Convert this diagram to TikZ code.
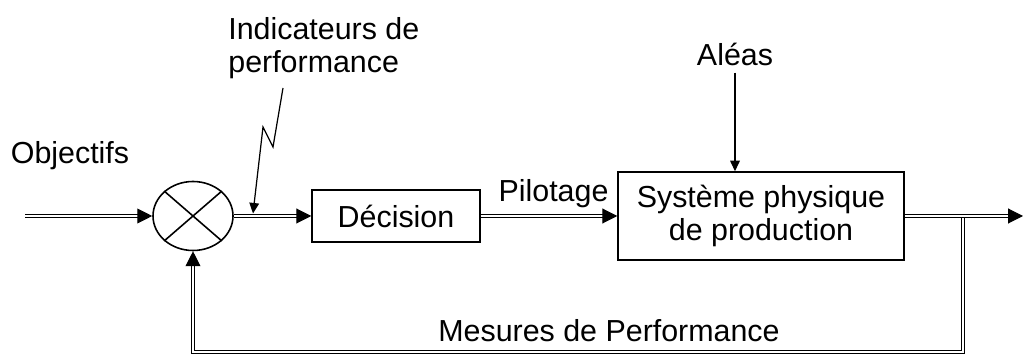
\documentclass[tikz,border=0pt]{standalone}
\usepackage{fontspec}
\setmainfont{Liberation Sans}
\usetikzlibrary{arrows.meta,shapes.geometric}
\begin{document}
\begin{tikzpicture}[
    font=\fontsize{17.3}{19.3}\selectfont,
    bloc/.style={draw,line width=0.85pt,align=center,inner sep=0pt},
    flux/.style={double,line width=0.6pt,double distance=1.3pt,-{Triangle[length=8.5pt,width=8.5pt]}},
    fleche/.style={line width=0.7pt,-{Triangle[length=6pt,width=5.5pt]}}]
  \useasboundingbox (0,0) rectangle (20.46,-7.08);
  % comparateur et blocs
  \node[draw,ellipse,line width=0.9pt,minimum width=1.6cm,minimum height=1.38cm,inner sep=0pt] (comp) at (3.86,-4.32) {};
  \draw[line width=0.9pt] (comp.north east) -- (comp.south west) (comp.north west) -- (comp.south east);
  \node[bloc,minimum width=3.36cm,minimum height=1.04cm] (dec) at (7.92,-4.32) {Décision};
  \node[bloc,minimum width=5.72cm,minimum height=1.76cm] (sys) at (15.22,-4.32) {Système physique\\de production};
  % textes
  \node[anchor=base] (obj) at (1.40,-3.28) {Objectifs};
  \node[anchor=base west,align=left,inner sep=0pt] (indic) at (4.56,-1.46) {Indicateurs de\\performance};
  \node[anchor=base] (alea) at (14.70,-1.32) {Aléas};
  \node[anchor=base] (pilot) at (11.07,-4.04) {Pilotage};
  \node[anchor=base] (mes) at (12.18,-6.84) {Mesures de Performance};
  % points libres
  \coordinate (entree) at (0.5,-4.32);
  \coordinate (sortie) at (20.46,-4.32);
  \coordinate (branche) at (19.26,-4.32);
  \coordinate (bas) at (3.86,-7.04);
  \coordinate (zig) at (5.66,-1.76);
  \coordinate (cible) at (5.06,-4.27);
  % flux
  \draw[flux] (branche) -- (branche |- bas) -- (bas) -- (comp.south);
  \draw[flux] (entree) -- (comp.west);
  \draw[flux] (comp.east) -- (dec.west);
  \draw[flux] (dec.east) -- (sys.west);
  \draw[flux] (sys.east) -- (sortie);
  \draw[fleche] (alea.south) -- (alea.south |- sys.north);
  \draw[fleche] (zig) -- (5.46,-2.94) -- (5.26,-2.54) -- (cible);
\end{tikzpicture}
\end{document}
